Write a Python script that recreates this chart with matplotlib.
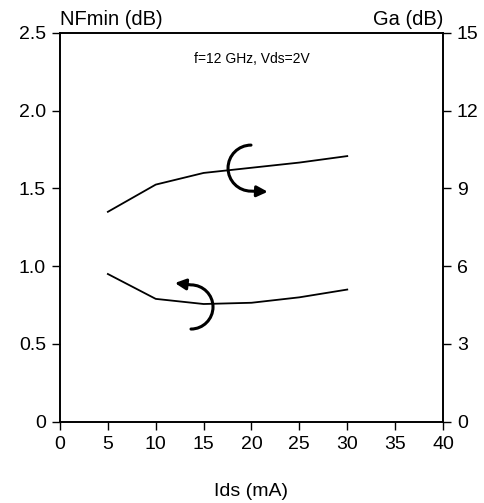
import matplotlib.pyplot as plt
from matplotlib.path import Path
from matplotlib.patches import FancyArrowPatch

# Ids (mA)
ids = [5, 10, 15, 20, 25, 30]
# minimum noise figure (dB), left axis
nfmin = [0.95, 0.79, 0.757, 0.765, 0.80, 0.85]
# associated gain (dB), right axis
ga = [8.1, 9.15, 9.6, 9.8, 10.0, 10.25]

plt.rcParams['font.family'] = ['Liberation Sans', 'DejaVu Sans']

fig = plt.figure(figsize=(4.85, 5.03), dpi=100)
ax = fig.add_axes([0.1237, 0.1616, 0.7897, 0.7728])
ax2 = ax.twinx()

ax.plot(ids, nfmin, color='black', lw=1.3)
ax2.plot(ids, ga, color='black', lw=1.3)

ax.set_xlim(0, 40)
ax.set_ylim(0, 2.5)
ax2.set_ylim(0, 15)
ax.set_xticks(range(0, 45, 5))
ax.set_yticks([0, 0.5, 1.0, 1.5, 2.0, 2.5])
ax.set_yticklabels(['0', '0.5', '1.0', '1.5', '2.0', '2.5'])
ax2.set_yticks([0, 3, 6, 9, 12, 15])

for a in (ax, ax2):
    for s in a.spines.values():
        s.set_linewidth(1.2)
    a.tick_params(labelsize=14, length=6, width=1, direction='out', pad=4)

ax.set_xlabel('Ids (mA)', fontsize=14, labelpad=22)
ax.text(0, 1.01, 'NFmin (dB)', transform=ax.transAxes, ha='left', va='bottom', fontsize=14.5)
ax.text(1.0, 1.01, 'Ga (dB)', transform=ax.transAxes, ha='right', va='bottom', fontsize=14.5)
ax.text(0.5, 0.933, 'f=12 GHz, Vds=2V', transform=ax.transAxes, ha='center', va='center', fontsize=10)


def half_circle_arrow(cx, cy, rx, ry, side, tip):
    # half circle from top/bottom round one side, then a short straight bit to the tip
    k = 0.5523
    s = -1 if side == 'left' else 1
    if side == 'left':
        y0, y1 = cy + ry, cy - ry
    else:
        y0, y1 = cy - ry, cy + ry
    d = 1 if y1 > y0 else -1
    verts = [(cx, y0),
             (cx + s * k * rx, y0), (cx + s * rx, cy - d * k * ry), (cx + s * rx, cy),
             (cx + s * rx, cy + d * k * ry), (cx + s * k * rx, y1), (cx, y1),
             tip]
    codes = [Path.MOVETO] + [Path.CURVE4] * 6 + [Path.LINETO]
    arr = FancyArrowPatch(path=Path(verts, codes), arrowstyle='-|>', color='black',
                          lw=2.2, mutation_scale=16, shrinkA=0, shrinkB=0)
    ax.add_patch(arr)


# curved arrows pointing to each curve's axis
half_circle_arrow(19.95, 1.631, 2.4, 0.148, 'left', (21.7, 1.479))
half_circle_arrow(13.68, 0.738, 2.3, 0.142, 'right', (12.0, 0.892))

plt.savefig('out.png', dpi=100)
